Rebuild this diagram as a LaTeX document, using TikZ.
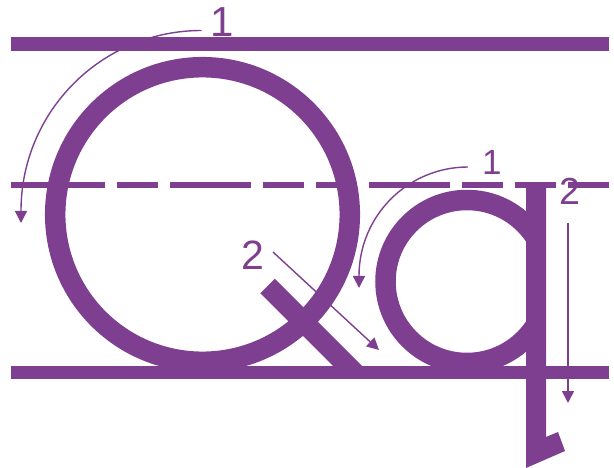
\documentclass[tikz,border=0pt]{standalone}
\usepackage{fontspec}
\setmainfont{Liberation Sans}
\usetikzlibrary{arrows.meta}
\definecolor{pur}{RGB}{127,63,145}
\begin{document}
\begin{tikzpicture}[x=1pt,y=-1pt,
  guide/.style={draw=pur,line width=13.6pt},
  midguide/.style={draw=pur,line width=6pt,dash pattern=on 41pt off 12pt},
  glyph/.style={draw=pur,line width=20.5pt},
  glyphfill/.style={fill=pur,draw=none},
  strokearrow/.style={draw=pur,line width=1.4pt,-{Triangle[width=12pt,length=12pt]}},
  lbl/.style={text=pur,inner sep=0pt,anchor=base}]
\useasboundingbox (0,0) rectangle (614,468);
% guide lines
\draw[guide] (11,44.2) -- (609,44.2);
\draw[guide] (11,372.5) -- (609,372.5);
\draw[midguide] (11,185.3) -- (211,185.3);
\draw[midguide] (210,185.3) -- (410,185.3);
\draw[midguide] (409,185.3) -- (609,185.3);
% letter Q
\draw[glyph] (202.5,214.5) circle[radius=147.3];
\fill[glyphfill] (260.25,293.25) -- (274.75,278.75) -- (369,373) -- (340,373) -- cycle;
% letter q
\begin{scope}
  \clip (300,150) rectangle (536,400);
  \draw[glyph] (467,281.5) circle[radius=81.5];
\end{scope}
\fill[glyphfill] (526,185) -- (546,185) -- (546,437) -- (558,432) -- (565,451) -- (526,468) -- cycle;
% stroke-order arrows
\coordinate (qa1s) at (201.5,30.5);
\coordinate (qa1e) at (21,223);
\draw[strokearrow] (qa1s) arc[start angle=270,end angle=180,radius=180.5] -- (qa1e);
\coordinate (qb1s) at (468,167);
\coordinate (qb1e) at (359,288);
\draw[strokearrow] (qb1s) arc[start angle=270,end angle=180,radius=109] -- (qb1e);
\coordinate (qa2s) at (273,252);
\coordinate (qa2e) at (379,350);
\draw[strokearrow] (qa2s) -- (qa2e);
\coordinate (qb2s) at (568,223);
\coordinate (qb2e) at (568,403);
\draw[strokearrow] (qb2s) -- (qb2e);
% labels
\node[lbl,font=\fontsize{42}{50}\selectfont] (l1) at (222.1,37) {1};
\node[lbl,font=\fontsize{41}{49}\selectfont] (l2) at (253.3,269.5) {2};
\node[lbl,font=\fontsize{35}{42}\selectfont] (l3) at (491.8,175) {1};
\node[lbl,font=\fontsize{37.7}{45}\selectfont] (l4) at (569.5,205) {2};
\end{tikzpicture}
\end{document}
